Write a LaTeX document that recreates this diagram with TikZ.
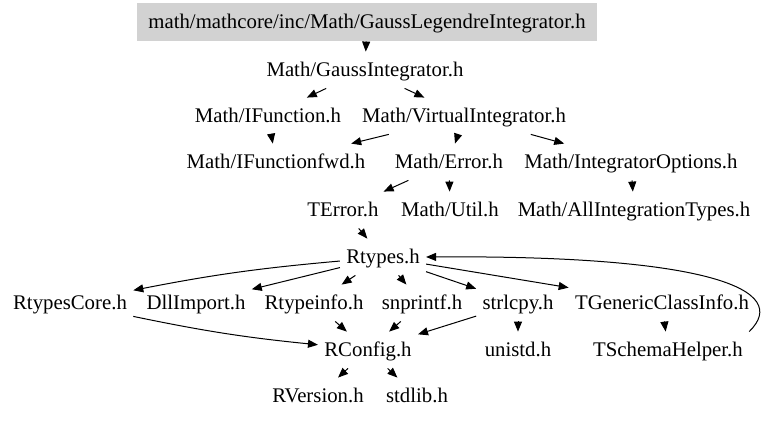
\documentclass[tikz,border=0pt]{standalone}
\usepackage{fontspec}
\setmainfont{Liberation Serif}
\usetikzlibrary{arrows.meta}

\begin{document}
\begin{tikzpicture}[x=0.5pt, y=-0.5pt,
  every node/.style={font=\fontsize{10.4}{12}\selectfont}]

  % ===== Styles =====
  \tikzset{
    file/.style={rectangle, inner sep=0pt, inner xsep=3pt, minimum height=18pt,
      text height=8.1pt, text depth=1.9pt},
    rootfile/.style={file, fill=gray!35, minimum width=230pt, minimum height=19pt},
    dep/.style={-{Triangle[length=5pt, width=4pt]}, line width=0.5pt}
  }

  \useasboundingbox (0,0) rectangle (768,421);

  % ===== Files (one row per level) =====
  \node[rootfile] (root) at (367,22) {math/mathcore/inc/Math/GaussLegendreIntegrator.h};
  \node[file] (gauss) at (365,70) {Math/GaussIntegrator.h};

  \node[file] (ifunc) at (268,116) {Math/IFunction.h};
  \node[file] (virt) at (464,116) {Math/VirtualIntegrator.h};

  \node[file] (ifwd) at (276,162) {Math/IFunctionfwd.h};
  \node[file] (err) at (449,162) {Math/Error.h};
  \node[file] (opts) at (631,162) {Math/IntegratorOptions.h};

  \node[file] (terr) at (343,210) {TError.h};
  \node[file] (util) at (450,210) {Math/Util.h};
  \node[file] (alltypes) at (634,210) {Math/AllIntegrationTypes.h};

  \node[file] (rtypes) at (383,257) {Rtypes.h};

  \node[file] (rcore) at (70,303) {RtypesCore.h};
  \node[file] (dll) at (196,303) {DllImport.h};
  \node[file] (rtinfo) at (314,303) {Rtypeinfo.h};
  \node[file] (snpr) at (422,303) {snprintf.h};
  \node[file] (strl) at (518,303) {strlcpy.h};
  \node[file] (tgci) at (662,303) {TGenericClassInfo.h};

  \node[file] (rconfig) at (368,350) {RConfig.h};
  \node[file] (unistd) at (518,350) {unistd.h};
  \node[file] (tsh) at (668,350) {TSchemaHelper.h};

  \node[file] (rversion) at (318,396) {RVersion.h};
  \node[file] (stdlib) at (417,396) {stdlib.h};

  % ===== Includes =====
  \draw[dep] (root) -- (gauss);
  \draw[dep] (gauss) -- (ifunc);
  \draw[dep] (gauss) -- (virt);
  \draw[dep] (ifunc) -- (ifwd);
  \draw[dep] (virt) -- (ifwd);
  \draw[dep] (virt) -- (err);
  \draw[dep] (virt) -- (opts);
  \draw[dep] (err) -- (terr);
  \draw[dep] (err) -- (util);
  \draw[dep] (opts) -- (alltypes);
  \draw[dep] (terr) -- (rtypes);
  \draw[dep] (rtypes) to[bend right=3] (rcore);
  \draw[dep] (rtypes) -- (dll);
  \draw[dep] (rtypes) -- (rtinfo);
  \draw[dep] (rtypes) -- (snpr);
  \draw[dep] (rtypes) -- (strl);
  \draw[dep] (rtypes) -- (tgci);
  \draw[dep] (rcore) to[bend right=3] (rconfig);
  \draw[dep] (rtinfo) -- (rconfig);
  \draw[dep] (snpr) -- (rconfig);
  \draw[dep] (strl) -- (rconfig);
  \draw[dep] (strl) -- (unistd);
  \draw[dep] (tgci) -- (tsh);
  \draw[dep] (rconfig) -- (rversion);
  \draw[dep] (rconfig) -- (stdlib);
  % cycle back up to Rtypes.h
  \draw[dep] (tsh.north east) .. controls +(43,-42) and +(282,-2) .. (rtypes.east);

\end{tikzpicture}
\end{document}
